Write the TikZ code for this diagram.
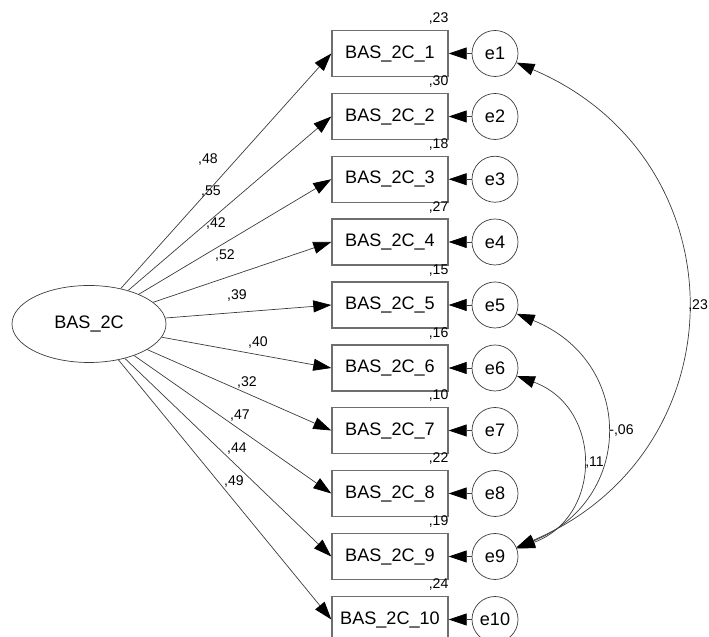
\documentclass[tikz,border=0pt]{standalone}
\usepackage{fontspec}
\setmainfont{Liberation Sans}
\usetikzlibrary{shapes.geometric,arrows.meta}
\definecolor{linegray}{RGB}{60,60,60}
\definecolor{boxgray}{RGB}{110,110,110}
\tikzset{
  latent/.style={ellipse, draw=linegray, minimum width=3.08cm, minimum height=1.54cm, font=\fontsize{10.3}{12}\selectfont},
  item/.style={rectangle, draw=boxgray, thick, minimum width=2.32cm, minimum height=0.92cm, inner sep=0pt, font=\fontsize{10.3}{12}\selectfont},
  err/.style={circle, draw=linegray, minimum size=0.92cm, inner sep=0pt, font=\fontsize{10.3}{12}\selectfont},
  coef/.style={font=\fontsize{8}{9}\selectfont, inner sep=1pt},
  rsq/.style={font=\fontsize{8}{9}\selectfont, inner sep=0pt, anchor=base east},
  load/.style={draw=linegray, -{Triangle[length=0.36cm,width=0.24cm,color=black]}},
  cov/.style={draw=linegray, {Triangle[length=0.36cm,width=0.24cm,color=black]}-{Triangle[length=0.36cm,width=0.24cm,color=black]}}
}
\begin{document}
\begin{tikzpicture}
            \useasboundingbox (0,0) rectangle (14.18,12.74);
            % Faktor
            \node[latent] (f) at (1.78,6.26) {BAS\_2C};
            % Items
            \node[item] (b1) at (7.8,11.67) {BAS\_2C\_1};
            \node[item] (b2) at (7.8,10.41) {BAS\_2C\_2};
            \node[item] (b3) at (7.8,9.155) {BAS\_2C\_3};
            \node[item] (b4) at (7.8,7.90) {BAS\_2C\_4};
            \node[item] (b5) at (7.8,6.64) {BAS\_2C\_5};
            \node[item] (b6) at (7.8,5.38) {BAS\_2C\_6};
            \node[item] (b7) at (7.8,4.13) {BAS\_2C\_7};
            \node[item] (b8) at (7.8,2.87) {BAS\_2C\_8};
            \node[item] (b9) at (7.8,1.61) {BAS\_2C\_9};
            \node[item] (b10) at (7.8,0.35) {BAS\_2C\_10};
            % Fehler
            \node[err] (e1) at (9.9,11.67) {e1};
            \node[err] (e2) at (9.9,10.41) {e2};
            \node[err] (e3) at (9.9,9.155) {e3};
            \node[err] (e4) at (9.9,7.90) {e4};
            \node[err] (e5) at (9.9,6.64) {e5};
            \node[err] (e6) at (9.9,5.38) {e6};
            \node[err] (e7) at (9.9,4.13) {e7};
            \node[err] (e8) at (9.9,2.87) {e8};
            \node[err] (e9) at (9.9,1.61) {e9};
            \node[err] (e10) at (9.9,0.35) {e10};
            % Ladungen
            \draw[load] (f) -- (b1.west);
            \draw[load] (f) -- (b2.west);
            \draw[load] (f) -- (b3.west);
            \draw[load] (f) -- (b4.west);
            \draw[load] (f) -- (b5.west);
            \draw[load] (f) -- (b6.west);
            \draw[load] (f) -- (b7.west);
            \draw[load] (f) -- (b8.west);
            \draw[load] (f) -- (b9.west);
            \draw[load] (f) -- (b10.west);
            \node[coef] (l1) at (4.16,9.54) {,48};
            \node[coef] (l2) at (4.22,8.90) {,55};
            \node[coef] (l3) at (4.32,8.26) {,42};
            \node[coef] (l4) at (4.50,7.62) {,52};
            \node[coef] (l5) at (4.74,6.82) {,39};
            \node[coef] (l6) at (5.16,5.90) {,40};
            \node[coef] (l7) at (4.94,5.10) {,32};
            \node[coef] (l8) at (4.80,4.42) {,47};
            \node[coef] (l9) at (4.74,3.76) {,44};
            \node[coef] (l10) at (4.68,3.12) {,49};
            % Fehler -> Items
            \draw[load] (e1) -- (b1);
            \draw[load] (e2) -- (b2);
            \draw[load] (e3) -- (b3);
            \draw[load] (e4) -- (b4);
            \draw[load] (e5) -- (b5);
            \draw[load] (e6) -- (b6);
            \draw[load] (e7) -- (b7);
            \draw[load] (e8) -- (b8);
            \draw[load] (e9) -- (b9);
            \draw[load] (e10) -- (b10);
            % R^2
            \node[rsq] (r1) at ([yshift=0.14cm]b1.north east) {,23};
            \node[rsq] (r2) at ([yshift=0.14cm]b2.north east) {,30};
            \node[rsq] (r3) at ([yshift=0.14cm]b3.north east) {,18};
            \node[rsq] (r4) at ([yshift=0.14cm]b4.north east) {,27};
            \node[rsq] (r5) at ([yshift=0.14cm]b5.north east) {,15};
            \node[rsq] (r6) at ([yshift=0.14cm]b6.north east) {,16};
            \node[rsq] (r7) at ([yshift=0.14cm]b7.north east) {,10};
            \node[rsq] (r8) at ([yshift=0.14cm]b8.north east) {,22};
            \node[rsq] (r9) at ([yshift=0.14cm]b9.north east) {,19};
            \node[rsq] (r10) at ([yshift=0.14cm]b10.north east) {,24};
            % Kovarianzen
            \draw[cov] (e1) to[bend left=67, looseness=1.3] node[coef, right] (c1) {,23} (e9);
            \draw[cov] (e5) to[bend left=68, looseness=1.4] node[coef, right, inner sep=2pt] (c2) {-,06} (e9);
            \draw[cov] (e6) to[bend left=70, looseness=1.36] node[coef, right, inner sep=2pt] (c3) {,11} (e9);
\end{tikzpicture}
\end{document}
